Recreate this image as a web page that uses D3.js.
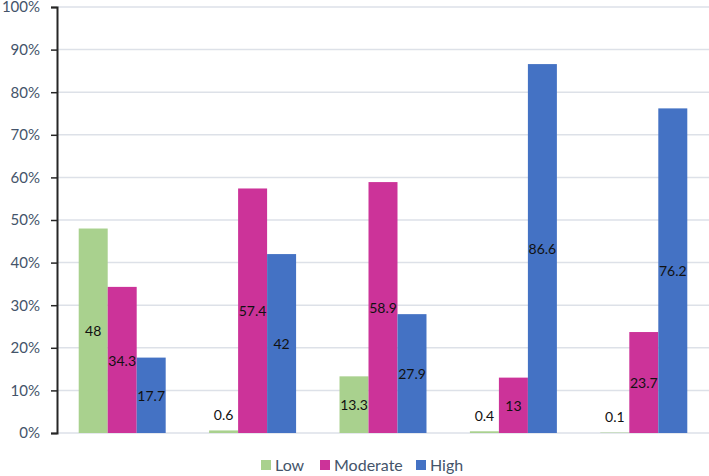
<!DOCTYPE html>
<html><head><meta charset="utf-8">
<script src="https://cdn.jsdelivr.net/npm/d3@7"></script>
<style>body{margin:0;background:#fff;} svg{display:block;}</style>
</head><body>
<svg id="c" width="709" height="476"></svg>
<script>
const groups = ["G1","G2","G3","G4","G5"];
const seriesNames = ["Low","Moderate","High"];
const lowValues = [48, 0.6, 13.3, 0.4, 0.1];
const moderateValues = [34.3, 57.4, 58.9, 13, 23.7];
const highValues = [17.7, 42, 27.9, 86.6, 76.2];
const yTicks = [0,10,20,30,40,50,60,70,80,90,100];
const colors = ["#a9d18e","#cc3399","#4472c4"];

const allSeries = [lowValues, moderateValues, highValues];
const svg = d3.select("#c");
const font = "Lato, 'Open Sans', sans-serif";
const x0 = d3.scaleBand().domain(groups).range([57, 709]).paddingInner(0.333).paddingOuter(0.1665);
const x1 = d3.scaleBand().domain(seriesNames).range([0, x0.bandwidth()]);
const y = d3.scaleLinear().domain([0,100]).range([433, 7]);

// gridlines
svg.append("g").selectAll("line").data(yTicks).join("line")
  .attr("x1", 57).attr("x2", 709)
  .attr("y1", d => y(d)).attr("y2", d => y(d))
  .attr("stroke", "#dde1e8").attr("stroke-width", 1.5);

// bars
const gBars = svg.append("g");
allSeries.forEach((vals, si) => {
  gBars.selectAll(null).data(vals).join("rect")
    .attr("x", (d,i) => x0(groups[i]) + x1(seriesNames[si]))
    .attr("width", x1.bandwidth())
    .attr("y", d => y(d))
    .attr("height", d => y(0) - y(d))
    .attr("fill", colors[si]);
});

// labels
const gLab = svg.append("g");
allSeries.forEach((vals, si) => {
  gLab.selectAll(null).data(vals).join("text")
    .attr("x", (d,i) => x0(groups[i]) + x1(seriesNames[si]) + x1.bandwidth()/2)
    .attr("y", d => d < 1 ? y(d) - 16 : y(d/2))
    .attr("dy", "0.4em")
    .attr("text-anchor", "middle")
    .attr("font-family", font).attr("font-size", 14).attr("fill", "#111")
    .text(d => d);
});

// y axis
const yAxis = d3.axisLeft(y).tickValues(yTicks).tickFormat(d => d + "%").tickSize(6).tickPadding(11);
const ga = svg.append("g").attr("transform", "translate(57,0)").call(yAxis);
ga.select(".domain").attr("stroke", "#262626").attr("stroke-width", 2);
ga.selectAll(".tick line").attr("stroke", "#262626").attr("stroke-width", 1.5);
ga.selectAll(".tick text").attr("font-family", font).attr("font-size", 15).attr("fill", "#44546a");

// legend
const legX = [261, 320, 416];
const leg = svg.append("g");
seriesNames.forEach((n, i) => {
  leg.append("rect").attr("x", legX[i]).attr("y", 460).attr("width", 10).attr("height", 10).attr("fill", colors[i]);
  leg.append("text").attr("x", legX[i] + 14).attr("y", 465).attr("dy", "0.36em")
    .attr("font-family", font).attr("font-size", 16).attr("fill", "#44546a").text(n);
});
</script>
</body></html>
